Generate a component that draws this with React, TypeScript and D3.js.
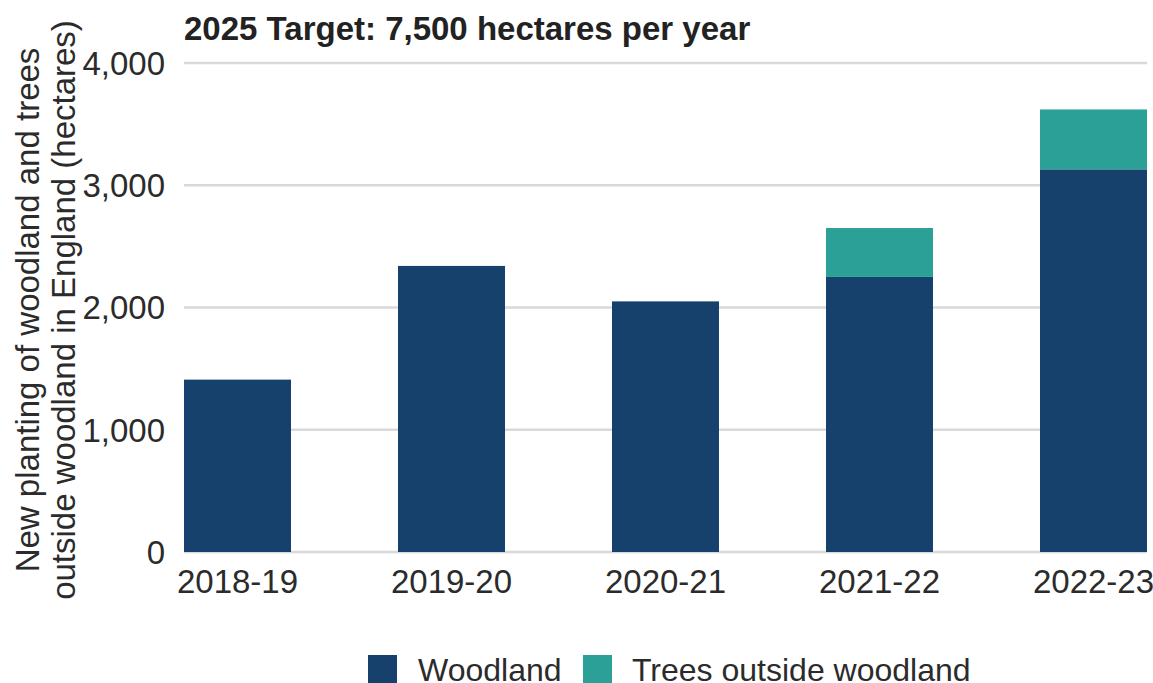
import React, { useEffect, useRef } from "react";
import * as d3 from "d3";

const categories = ["2018-19", "2019-20", "2020-21", "2021-22", "2022-23"];
const woodland = [1410, 2340, 2050, 2250, 3130];
const treesOutside = [0, 0, 0, 400, 490];
const seriesNames = ["Woodland", "Trees outside woodland"];
const seriesColors = ["#15416c", "#2aa096"];
const yTicks = [0, 1000, 2000, 3000, 4000];
const title = "2025 Target: 7,500 hectares per year";
const yTitle = ["New planting of woodland and trees", "outside woodland in England (hectares)"];

const W = 1153, H = 683;
const M = { left: 184, right: 6, top: 63, bottom: 131 };
const FONT = "'Liberation Sans', Arial, sans-serif";
const FS = 33;

export default function App() {
  const ref = useRef<SVGSVGElement>(null);
  useEffect(() => {
    document.body.style.margin = "0";
    const svg = d3.select(ref.current);
    svg.selectAll("*").remove();
    const x = d3.scaleBand().domain(categories).range([M.left, W - M.right]).paddingInner(0.5).paddingOuter(0);
    const y = d3.scaleLinear().domain([0, 4000]).range([H - M.bottom, M.top]);

    const g = svg.append("g");
    g.selectAll("line.grid").data(yTicks).join("line")
      .attr("x1", M.left).attr("x2", W - M.right)
      .attr("y1", d => y(d)).attr("y2", d => y(d))
      .attr("stroke", "#d9d9d9").attr("stroke-width", 2.5);

    g.selectAll("text.ytick").data(yTicks).join("text")
      .attr("x", 165).attr("y", d => y(d)).attr("dy", "0.36em")
      .attr("text-anchor", "end").attr("font-family", FONT).attr("font-size", FS)
      .attr("fill", "#2b2b2b").text(d => d3.format(",")(d));

    const data = categories.map((c, i) => ({ c, w: woodland[i], t: treesOutside[i] }));
    const stack = d3.stack<any>().keys(["w", "t"])(data as any);
    stack.forEach((layer, li) => {
      g.append("g").selectAll("rect").data(layer).join("rect")
        .attr("x", (d: any) => x(d.data.c)!)
        .attr("width", x.bandwidth())
        .attr("y", (d: any) => y(d[1]))
        .attr("height", (d: any) => Math.max(0, y(d[0]) - y(d[1])))
        .attr("fill", seriesColors[li]);
    });

    g.selectAll("text.xtick").data(categories).join("text")
      .attr("x", d => x(d)! + x.bandwidth() / 2).attr("y", 593)
      .attr("text-anchor", "middle").attr("font-family", FONT).attr("font-size", FS)
      .attr("fill", "#2b2b2b").text(d => d);

    svg.append("text").attr("x", 184).attr("y", 40)
      .attr("font-family", FONT).attr("font-size", FS).attr("font-weight", "bold")
      .attr("fill", "#222").text(title);

    yTitle.forEach((t, i) => {
      svg.append("text")
        .attr("transform", `translate(${39 + i * 36},310) rotate(-90)`)
        .attr("text-anchor", "middle").attr("font-family", FONT).attr("font-size", FS)
        .attr("fill", "#2b2b2b").text(t);
    });

    const lg = svg.append("g");
    const items = [{ x: 368, tx: 418 }, { x: 583, tx: 632 }];
    items.forEach((it, i) => {
      lg.append("rect").attr("x", it.x).attr("y", 655).attr("width", 29).attr("height", 30).attr("fill", seriesColors[i]);
      lg.append("text").attr("x", it.tx).attr("y", 681).attr("font-family", FONT).attr("font-size", 32)
        .attr("fill", "#2b2b2b").text(seriesNames[i]);
    });
  }, []);
  return <svg ref={ref} width={W} height={H} style={{ display: "block", background: "#fff" }} />;
}
